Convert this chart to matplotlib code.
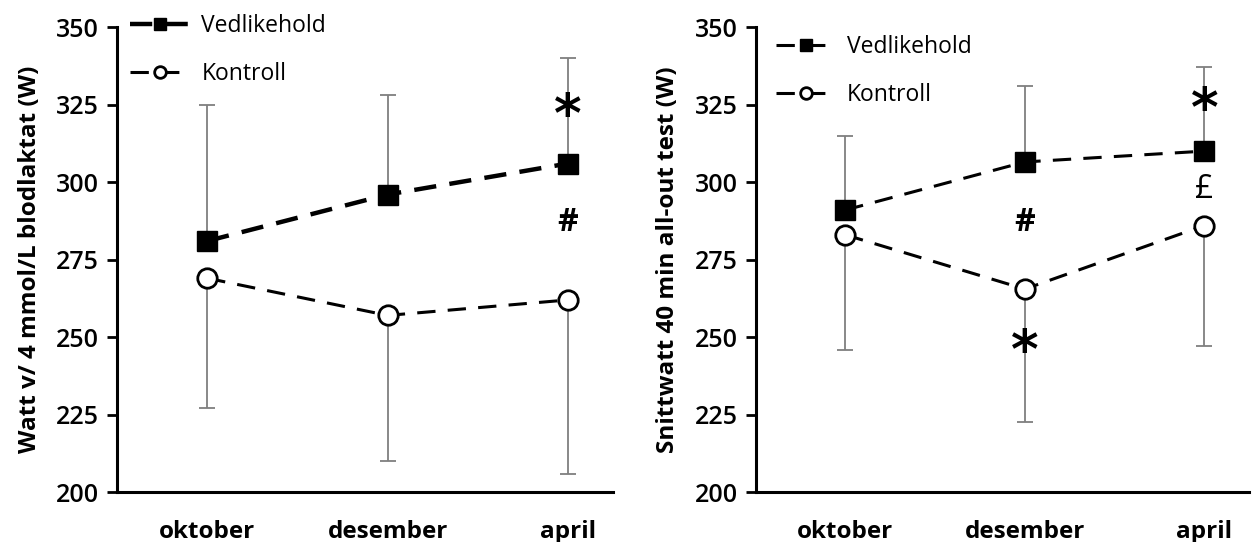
import numpy as np
import matplotlib
matplotlib.use("Agg")
import matplotlib.pyplot as plt

plt.rcParams['font.family'] = ['Open Sans', 'DejaVu Sans']

# data
months = ["oktober", "desember", "april"]

# left panel: watt at 4 mmol/L blood lactate
lakt_vedl = [281, 296, 306]
lakt_vedl_sd = [44, 32, 34]
lakt_kontr = [269, 257, 262]
lakt_kontr_sd = [42, 47, 56]

# right panel: mean watt 40 min all-out test
snitt_vedl = [291, 306.5, 310]
snitt_vedl_sd = [24, 24.5, 27]
snitt_kontr = [283, 265.5, 286]
snitt_kontr_sd = [37, 43, 39]

# significance marks (month index, y, symbol)
lakt_marks = [(2, 321, "*"), (2, 287, "#")]
snitt_marks = [(1, 287, "#"), (1, 245, "*"), (2, 323, "*"), (2, 297.5, "£")]

fig = plt.figure(figsize=(12.53, 5.42), dpi=100)
ax1 = fig.add_axes([0.0934, 0.092, 0.396, 0.858])
ax2 = fig.add_axes([0.603, 0.092, 0.394, 0.858])

x = np.arange(len(months))
grey = "#7f7f7f"


def panel(ax, vedl, vedl_sd, kontr, kontr_sd, marks, ylabel, thick, leg_xy):
    z = np.zeros(len(x))
    ax.errorbar(x, vedl, yerr=[z, vedl_sd], fmt="none", ecolor=grey,
                elinewidth=1.3, capsize=6, capthick=1.3, zorder=1)
    ax.errorbar(x, kontr, yerr=[kontr_sd, z], fmt="none", ecolor=grey,
                elinewidth=1.3, capsize=6, capthick=1.3, zorder=1)
    if thick:
        lw_v, dash_v = 3.2, (5, 3)
    else:
        lw_v, dash_v = 2.2, (6, 4)
    l1, = ax.plot(x, vedl, color="black", lw=lw_v, dashes=dash_v, marker="s",
                  ms=14, mfc="black", mec="black", zorder=3, label="Vedlikehold")
    l2, = ax.plot(x, kontr, color="black", lw=2.2, dashes=(6, 4), marker="o",
                  ms=14, mfc="white", mec="black", mew=2, zorder=3, label="Kontroll")
    for i, yv, s in marks:
        if s == "*":
            ax.text(x[i], yv, s, ha="center", va="center", fontsize=38,
                    fontweight="bold", family="DejaVu Sans")
        elif s == "#":
            ax.text(x[i], yv, s, ha="center", va="center", fontsize=23,
                    fontweight="bold")
        else:
            ax.text(x[i], yv, s, ha="center", va="center", fontsize=23)
    ax.set_xlim(-0.5, 2.25)
    ax.set_ylim(200, 350)
    ax.set_yticks(np.arange(200, 351, 25))
    ax.set_xticks(x)
    ax.set_xticklabels(months, fontsize=17.5, fontweight="bold")
    ax.tick_params(axis="x", length=0, pad=20)
    ax.tick_params(axis="y", length=7, width=2, labelsize=18, pad=6)
    for t in ax.get_yticklabels():
        t.set_fontweight("semibold")
    ax.spines["top"].set_visible(False)
    ax.spines["right"].set_visible(False)
    ax.spines["left"].set_linewidth(2.2)
    ax.spines["bottom"].set_linewidth(2.2)
    ax.set_ylabel(ylabel, fontsize=17.5, fontweight="bold", labelpad=10)
    leg = ax.legend(handles=[l1, l2], loc="upper left",
                    bbox_to_anchor=leg_xy, frameon=False, fontsize=16.5,
                    markerscale=0.6, handlelength=2.6, handletextpad=0.5,
                    labelspacing=1.05)
    return leg


panel(ax1, lakt_vedl, lakt_vedl_sd, lakt_kontr, lakt_kontr_sd, lakt_marks,
      "Watt v/ 4 mmol/L blodlaktat (W)", True, (-0.015, 1.072))
panel(ax2, snitt_vedl, snitt_vedl_sd, snitt_kontr, snitt_kontr_sd, snitt_marks,
      "Snittwatt 40 min all-out test (W)", False, (0.0, 1.027))

fig.savefig("out.png", dpi=100)
